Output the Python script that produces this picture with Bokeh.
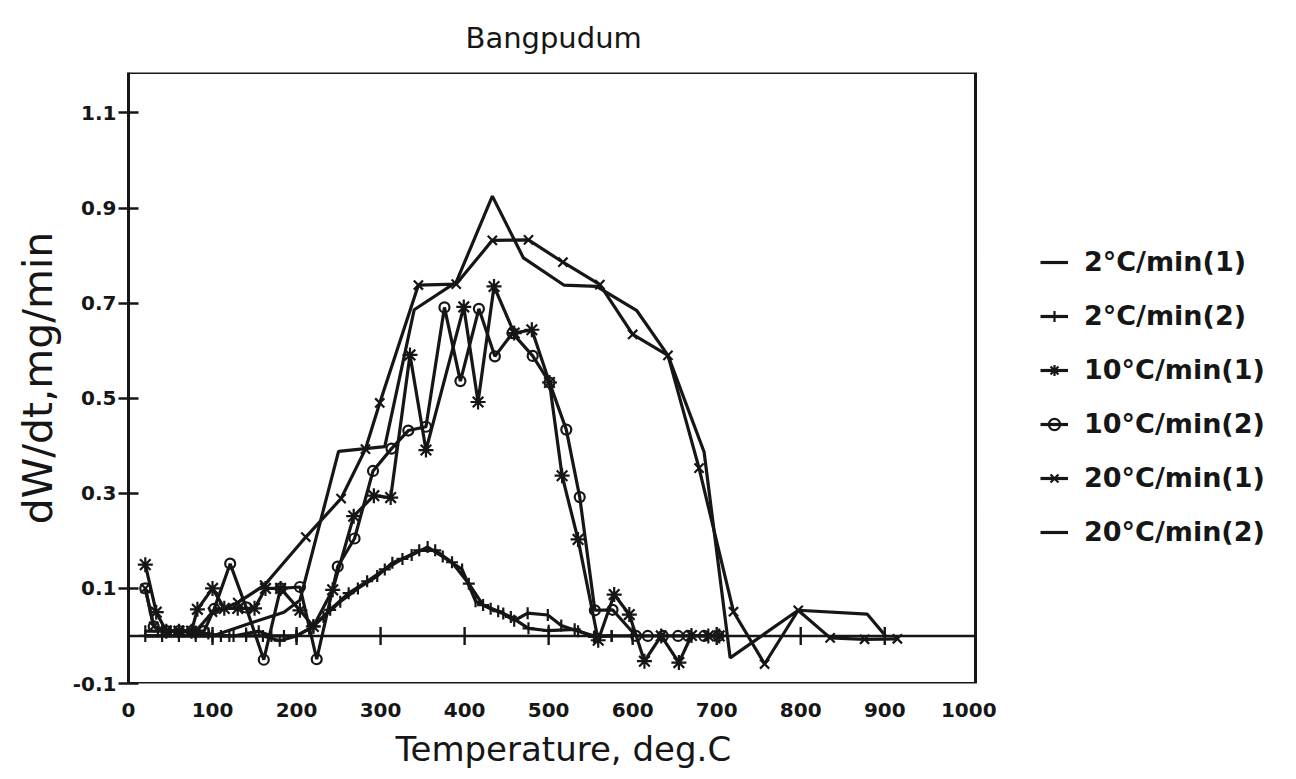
import numpy as np
from bokeh.plotting import figure
from bokeh.models import Range1d, FixedTicker, Legend, LegendItem, BoxAnnotation, Title
from bokeh.embed import file_html
from bokeh.resources import INLINE

# --- data: temperature (deg C) and dW/dt (mg/min) for each heating rate ---
t_2_1 = [20, 35, 50, 65, 80, 95, 110, 125, 140, 155, 170, 185, 200, 215, 232, 252, 273, 296,
         314, 337, 356, 374, 397, 413, 431, 446, 459, 475, 499, 515, 535, 555, 575]
w_2_1 = [0.01, 0.01, 0.01, 0.01, 0.005, 0.005, 0.0, 0.0, 0.005, 0.01, 0.0, 0.0, 0.0, 0.015, 0.04,
         0.072, 0.10, 0.126, 0.154, 0.17, 0.187, 0.167, 0.14, 0.073, 0.057, 0.047, 0.032, 0.048,
         0.044, 0.022, 0.01, 0.0, 0.0]

t_2_2 = [20, 40, 60, 80, 100, 120, 140, 160, 180, 200, 220, 240, 262, 284, 305, 326, 346, 365,
         385, 405, 422, 440, 455, 476, 500, 531, 554, 575, 600]
w_2_2 = [0.0, 0.0, 0.0, 0.0, 0.0, 0.0, 0.0, 0.0, -0.01, 0.0, 0.02, 0.055, 0.09, 0.115, 0.14,
         0.162, 0.18, 0.18, 0.155, 0.11, 0.065, 0.052, 0.04, 0.016, 0.011, 0.014, -0.002, 0.0, 0.0]

t_10_1 = [20, 33, 45, 60, 75, 82, 100, 114, 130, 150, 163, 181, 204, 220, 243, 268, 292, 312,
          335, 354, 399, 416, 435, 459, 480, 501, 516, 535, 559, 578, 596, 614, 634, 655, 670,
          690, 703]
w_10_1 = [0.15, 0.05, 0.01, 0.01, 0.01, 0.056, 0.10, 0.058, 0.058, 0.058, 0.10, 0.10, 0.054,
          0.02, 0.097, 0.252, 0.295, 0.291, 0.591, 0.391, 0.692, 0.492, 0.735, 0.637, 0.644,
          0.533, 0.337, 0.203, -0.009, 0.087, 0.045, -0.053, 0.0, -0.056, 0.001, 0.0, 0.0]

t_10_2 = [20, 30, 45, 60, 75, 90, 102, 121, 140, 161, 181, 204, 224, 249, 269, 291, 313, 333,
          354, 376, 395, 417, 436, 457, 481, 501, 521, 537, 555, 576, 604, 618, 636, 654, 666,
          685, 702]
w_10_2 = [0.10, 0.02, 0.01, 0.01, 0.01, 0.01, 0.057, 0.152, 0.06, -0.05, 0.10, 0.103, -0.049,
          0.146, 0.205, 0.347, 0.394, 0.432, 0.44, 0.691, 0.536, 0.688, 0.588, 0.637, 0.589,
          0.533, 0.434, 0.292, 0.054, 0.055, 0.0, 0.0, 0.0, 0.0, 0.0, 0.0, 0.0]

t_20_1 = [20, 30, 45, 60, 80, 100, 130, 162, 211, 253, 282, 299, 345, 390, 433, 476, 517, 561,
          600, 642, 679, 720, 757, 797, 835, 876, 915]
w_20_1 = [0.10, 0.02, 0.01, 0.01, 0.01, 0.05, 0.07, 0.107, 0.208, 0.289, 0.393, 0.49, 0.738,
          0.74, 0.832, 0.833, 0.786, 0.739, 0.634, 0.59, 0.353, 0.051, -0.059, 0.054, -0.004,
          -0.007, -0.006]

t_20_2 = [20, 60, 100, 150, 185, 204, 250, 305, 340, 390, 433, 470, 518, 557, 605, 642, 685,
          716, 797, 879, 901]
w_20_2 = [0.0, 0.0, 0.0, 0.03, 0.05, 0.075, 0.388, 0.398, 0.686, 0.744, 0.925, 0.795, 0.738,
          0.735, 0.684, 0.59, 0.387, -0.046, 0.054, 0.046, 0.0]

series_labels = ["2°C/min(1)", "2°C/min(2)", "10°C/min(1)", "10°C/min(2)",
                 "20°C/min(1)", "20°C/min(2)"]

x_ticks = [0, 100, 200, 300, 400, 500, 600, 700, 800, 900, 1000]
y_ticks = [-0.1, 0.1, 0.3, 0.5, 0.7, 0.9, 1.1]
y_tick_labels = ["-0.1", "0.1", "0.3", "0.5", "0.7", "0.9", "1.1"]

# extent of the boxed plotting area (data units)
X_MIN, X_MAX = 0, 1008
Y_MIN, Y_MAX = -0.1, 1.185
# the canvas keeps room on the right for the key, so the x scale runs past the box
X_VIEW_END = 1390

INK = "#161616"

p = figure(width=1296, height=779,
           x_range=Range1d(X_MIN, X_VIEW_END), y_range=Range1d(Y_MIN, Y_MAX),
           output_backend="svg", toolbar_location=None,
           min_border_left=128, min_border_right=0,
           min_border_top=72, min_border_bottom=96,
           title="Bangpudum")

p.background_fill_color = "white"
p.border_fill_color = "white"
p.grid.visible = False
p.outline_line_color = None

# the plot box
p.add_layout(BoxAnnotation(left=X_MIN, right=X_MAX, bottom=Y_MIN, top=Y_MAX,
                           fill_color=None, line_color=INK, line_alpha=1.0, line_width=3))

p.title.align = "left"
p.title.offset = 337
p.title.vertical_align = "top"
p.title.text_font = "DejaVu Sans"
p.title.text_font_style = "normal"
p.title.text_font_size = "29px"
p.title.text_color = INK
p.title.standoff = 32

# x axis: labels only; tick marks are drawn on the zero line
p.xaxis.ticker = FixedTicker(ticks=x_ticks)
p.xaxis.bounds = (X_MIN, X_MAX)
p.xaxis.major_tick_in = 0
p.xaxis.major_tick_out = 0
p.xaxis.minor_tick_line_color = None
p.xaxis.axis_line_color = None
p.xaxis.major_label_standoff = 19

# x axis title, set under the box rather than under the full canvas
p.add_layout(Title(text="Temperature, deg.C", align="left", offset=267,
                   text_font="DejaVu Sans", text_font_style="normal",
                   text_font_size="34px", text_color=INK, standoff=14), "below")

# y axis with ticks crossing the axis line
p.yaxis.ticker = FixedTicker(ticks=y_ticks)
p.yaxis.major_label_overrides = {v: s for v, s in zip(y_ticks, y_tick_labels)}
p.yaxis.major_tick_in = 10
p.yaxis.major_tick_out = 10
p.yaxis.major_tick_line_width = 2.4
p.yaxis.major_tick_line_color = INK
p.yaxis.minor_tick_line_color = None
p.yaxis.axis_line_width = 3
p.yaxis.axis_line_color = INK
p.yaxis.major_label_standoff = 2
p.yaxis.axis_label = "dW/dt,mg/min"
p.yaxis.axis_label_standoff = 8
p.yaxis.axis_label_text_font = "DejaVu Sans"
p.yaxis.axis_label_text_font_style = "normal"
p.yaxis.axis_label_text_font_size = "41px"
p.yaxis.axis_label_text_color = INK

for ax in (p.xaxis[0], p.yaxis[0]):
    ax.major_label_text_font = "DejaVu Sans"
    ax.major_label_text_font_style = "bold"
    ax.major_label_text_font_size = "20px"
    ax.major_label_text_color = INK

# zero line with tick marks at each hundred degrees
p.segment(x0=[X_MIN], y0=[0], x1=[X_MAX], y1=[0], line_color=INK, line_width=2.4)
zero_ticks = x_ticks[1:-1]
p.scatter(x=zero_ticks, y=[0] * len(zero_ticks), marker="dash", angle=np.pi / 2,
          size=18, line_color=INK, line_width=2.4)

series = [
    (t_2_1, w_2_1, "dash", 12, np.pi / 2),
    (t_2_2, w_2_2, "cross", 12, 0.0),
    (t_10_1, w_10_1, "asterisk", 15, 0.0),
    (t_10_2, w_10_2, "circle", 10, 0.0),
    (t_20_1, w_20_1, "x", 13, 0.0),
    (t_20_2, w_20_2, None, 0, 0.0),
]

items = []
for (tx, wy, mk, sz, ang), lab in zip(series, series_labels):
    r_line = p.line(tx, wy, line_color=INK, line_width=3.2)
    rends = [r_line]
    if mk is not None:
        r_pts = p.scatter(tx, wy, marker=mk, size=sz, angle=ang, line_color=INK,
                          line_width=2.2, fill_alpha=0)
        rends.append(r_pts)
    items.append(LegendItem(label=lab, renderers=rends))

legend = Legend(items=items, location=(912, 136),
                glyph_width=28, glyph_height=30, label_height=30,
                label_standoff=16, spacing=23, padding=0, margin=0,
                border_line_color=None, background_fill_alpha=0,
                label_text_font="DejaVu Sans", label_text_font_style="bold",
                label_text_font_size="27px", label_text_color=INK)
p.add_layout(legend, "center")

open("out.html", "w").write(file_html(p, INLINE))
